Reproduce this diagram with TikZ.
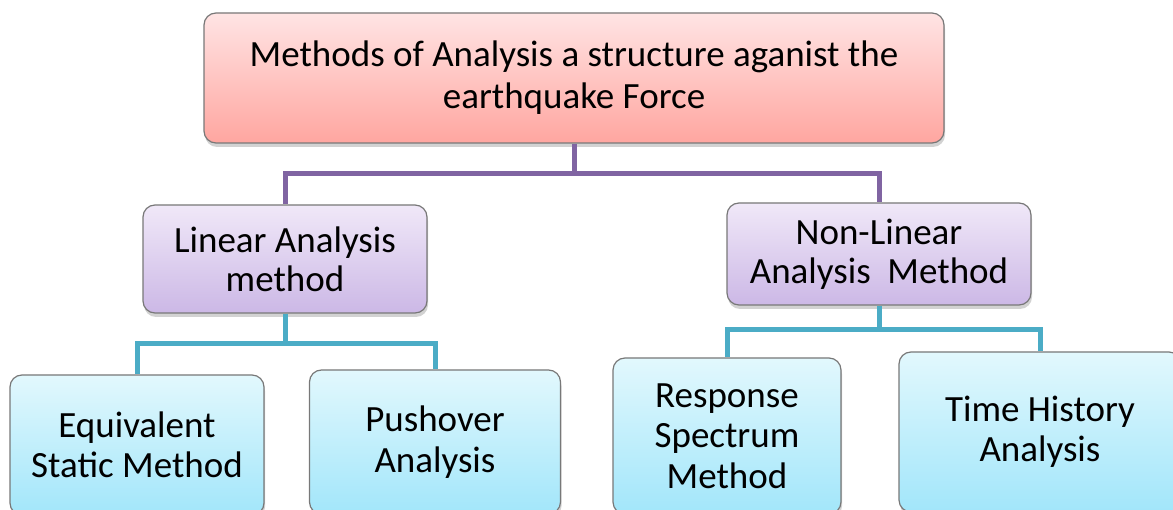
\documentclass[tikz,border=0pt]{standalone}
\usepackage{fontspec}
\setmainfont{Carlito}
\usetikzlibrary{shadows}
\definecolor{pinkT}{RGB}{255,228,228}
\definecolor{pinkB}{RGB}{255,166,160}
\definecolor{purT}{RGB}{240,232,248}
\definecolor{purB}{RGB}{204,184,230}
\definecolor{bluT}{RGB}{226,248,253}
\definecolor{bluB}{RGB}{162,230,250}
\definecolor{purLine}{RGB}{128,100,162}
\definecolor{tealLine}{RGB}{75,172,198}
\definecolor{boxEdge}{RGB}{120,120,120}
\tikzset{
  basebox/.style={draw=boxEdge, line width=1.2pt, rounded corners=12pt, align=center,
    inner sep=0pt, text=black, drop shadow={shadow xshift=1pt, shadow yshift=-4pt, opacity=0.35}},
  topbox/.style={basebox, top color=pinkT, bottom color=pinkB, font=\fontsize{37}{42}\selectfont},
  midbox/.style={basebox, top color=purT, bottom color=purB, font=\fontsize{37}{39}\selectfont},
  lowbox/.style={basebox, top color=bluT, bottom color=bluB, font=\fontsize{37}{40.5}\selectfont},
  purconn/.style={draw=purLine, line width=5pt},
  tealconn/.style={draw=tealLine, line width=5pt},
}
\begin{document}
\begin{tikzpicture}[x=1pt,y=-1pt]
\path[use as bounding box, clip] (0,0) rectangle (1173,510);
\fill[white] (0,0) rectangle (1173,510);
\coordinate (jt) at (574,174);
\coordinate (jl) at (287,344);
\coordinate (jn) at (880,330);
% nodes
\node[topbox, minimum width=740pt, minimum height=130pt] (top) at (574,78)
  {Methods of Analysis a structure aganist the\\earthquake Force};
\node[midbox, minimum width=284pt, minimum height=108pt] (lin) at (285,259)
  {Linear Analysis\\method};
\node[midbox, minimum width=304pt, minimum height=102pt] (non) at (879,254)
  {Non-Linear\\Analysis\ \ Method};
\node[lowbox, minimum width=254pt, minimum height=140pt] (eq) at (137,445)
  {Equivalent\\Static Method};
\node[lowbox, minimum width=251pt, minimum height=144pt] (push) at (435,442)
  {Pushover\\Analysis};
\node[lowbox, minimum width=228pt, minimum height=156pt] (resp) at (727,436)
  {Response\\Spectrum\\Method};
\node[lowbox, minimum width=282pt, minimum height=160pt] (time) at (1040,432)
  {Time History\\Analysis};
% connectors
\draw[purconn] (top.south) -- (jt);
\draw[purconn] (jt) -| (lin.north);
\draw[purconn] (jt) -| (non.north);
\draw[tealconn] (lin.south) |- (jl);
\draw[tealconn] (jl) -| (eq.north);
\draw[tealconn] (jl) -| (push.north);
\draw[tealconn] (non.south) |- (jn);
\draw[tealconn] (jn) -| (resp.north);
\draw[tealconn] (jn) -| (time.north);
\end{tikzpicture}
\end{document}
